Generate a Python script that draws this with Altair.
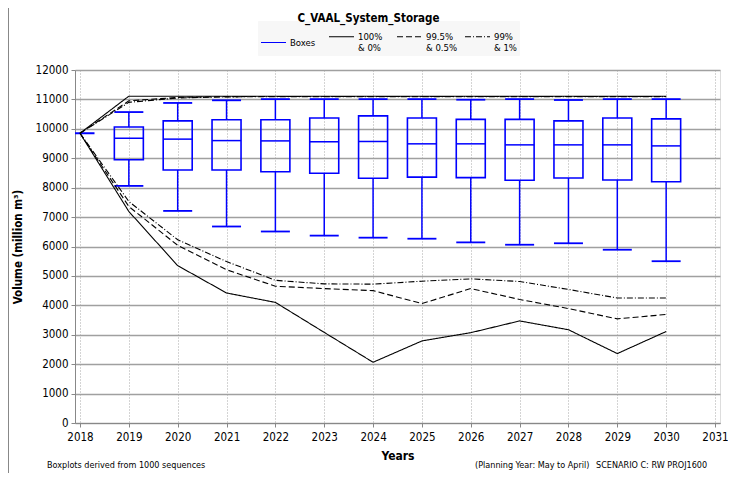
import altair as alt
import pandas as pd

# ---------------- data ----------------
years = list(range(2018, 2031))
box_years = list(range(2019, 2031))
start_year = [2018]
start_value = [9850]

whisker_hi = [10570, 10880, 10970, 11010, 11010, 11010, 11010, 10990, 11010, 10980, 11010, 11010]
q3 = [10060, 10270, 10310, 10310, 10370, 10440, 10370, 10320, 10320, 10270, 10370, 10340]
median = [9680, 9650, 9600, 9590, 9560, 9570, 9490, 9490, 9455, 9455, 9455, 9420]
q1 = [8950, 8600, 8600, 8540, 8490, 8320, 8360, 8340, 8250, 8330, 8260, 8200]
whisker_lo = [8060, 7210, 6680, 6510, 6370, 6300, 6265, 6140, 6060, 6110, 5890, 5500]

max100 = [9850, 11110, 11110, 11110, 11110, 11110, 11110, 11110, 11110, 11110, 11110, 11110, 11110]
up995 = [9850, 10950, 11070, 11095, 11100, 11100, 11100, 11100, 11100, 11100, 11100, 11100, 11100]
up99 = [9850, 10900, 11050, 11085, 11095, 11095, 11095, 11095, 11095, 11095, 11095, 11095, 11095]
min100 = [9850, 7190, 5350, 4420, 4100, 3080, 2065, 2790, 3070, 3470, 3170, 2360, 3110]
lo995 = [9850, 7360, 6040, 5210, 4650, 4570, 4500, 4060, 4570, 4200, 3890, 3540, 3690]
lo99 = [9850, 7530, 6230, 5490, 4850, 4730, 4720, 4820, 4900, 4810, 4540, 4250, 4250]

series_names = ["Boxes", "100%|& 0%", "99.5%|& 0.5%", "99%|& 1%"]
x_ticks = list(range(2018, 2032))
y_ticks = list(range(0, 12001, 1000))

title_text = "C_VAAL_System_Storage"
y_title = "Volume (million m³)"
x_title = "Years"
foot_left = "Boxplots derived from 1000 sequences"
foot_mid = "(Planning Year: May to April)"
foot_right = "SCENARIO C: RW PROJ1600"

# ---------------- tables ----------------
rows = []
for name, up, lo in [(series_names[1], max100, min100),
                     (series_names[2], up995, lo995),
                     (series_names[3], up99, lo99)]:
    for y, v in zip(years, up):
        rows.append({"year": y, "value": v, "series": name, "part": "upper"})
    for y, v in zip(years, lo):
        rows.append({"year": y, "value": v, "series": name, "part": "lower"})
line_df = pd.DataFrame(rows)

box_df = pd.DataFrame({"year": box_years, "hi": whisker_hi, "q3": q3,
                       "med": median, "q1": q1, "lo": whisker_lo})
start_df = pd.DataFrame({"year": start_year, "value": start_value})

FONT = "Liberation Sans Narrow, DejaVu Sans Condensed, sans-serif"
BLUE = "#0000ff"

xscale = alt.Scale(domain=[2018, 2031], nice=False, zero=False)
yscale = alt.Scale(domain=[0, 12000], nice=False)

xaxis = alt.Axis(values=x_ticks, format="d", title=x_title, labelFontSize=11.5,
                 labelFont=FONT, titleFont=FONT, titleFontSize=12, titleFontWeight="bold",
                 grid=True, gridDash=[1, 2], gridColor="#a8a8a8", gridWidth=1,
                 domainColor="#888888", tickColor="#888888", tickSize=4,
                 labelPadding=4, titlePadding=8, labelColor="#000000", titleColor="#000000")
yaxis = alt.Axis(values=y_ticks, format="d", title=y_title, labelFontSize=11.5,
                 labelFont=FONT, titleFont=FONT, titleFontSize=11.5, titleFontWeight="bold",
                 grid=True, gridColor="#a0a0a0", gridWidth=1.3, labelOverlap=False,
                 domainColor="#888888", tickColor="#888888", tickSize=4,
                 labelPadding=3, titlePadding=12, labelColor="#000000", titleColor="#000000")

legend_cfg = dict(orient="none", legendX=183, legendY=-49, direction="horizontal",
                  title=None, symbolType="stroke", symbolSize=625, symbolStrokeWidth=1.2,
                  labelFont=FONT, labelFontSize=9.5, labelColor="#000000",
                  labelExpr="split(datum.label, '|')", labelBaseline="middle", labelOffset=3,
                  labelLimit=0, columnPadding=4, gridAlign="all", padding=2,
                  fillColor="#f7f7f7", strokeColor="#f7f7f7")

base_x = alt.X("year:Q", scale=xscale, axis=xaxis)

def yenc(field):
    return alt.Y(field, scale=yscale, axis=yaxis)

lines = alt.Chart(line_df).mark_line(strokeWidth=1.1, clip=True).encode(
    x=base_x,
    y=yenc("value:Q"),
    color=alt.Color("series:N", scale=alt.Scale(domain=series_names,
                    range=[BLUE, "#000000", "#000000", "#000000"]), legend=alt.Legend(**legend_cfg)),
    strokeDash=alt.StrokeDash("series:N", scale=alt.Scale(domain=series_names,
                    range=[[1, 0], [1, 0], [6, 3], [6, 2, 1, 2]]), legend=alt.Legend(**legend_cfg)),
    detail="part:N",
    order="year:Q",
)

bx = alt.Chart(box_df)
whisk_up = bx.mark_rule(color=BLUE, strokeWidth=1.5).encode(x=base_x, y=yenc("q3:Q"), y2="hi:Q")
whisk_lo = bx.mark_rule(color=BLUE, strokeWidth=1.5).encode(x=base_x, y=yenc("lo:Q"), y2="q1:Q")
boxes = bx.mark_bar(size=29, fillOpacity=0, stroke=BLUE, strokeWidth=1.6).encode(
    x=base_x, y=yenc("q1:Q"), y2="q3:Q")
med = bx.mark_tick(orient="horizontal", size=29, thickness=1.5, color=BLUE, opacity=1).encode(
    x=base_x, y=yenc("med:Q"))
cap_hi = bx.mark_tick(orient="horizontal", size=29, thickness=1.8, color=BLUE, opacity=1).encode(
    x=base_x, y=yenc("hi:Q"))
cap_lo = bx.mark_tick(orient="horizontal", size=29, thickness=1.8, color=BLUE, opacity=1).encode(
    x=base_x, y=yenc("lo:Q"))
start_cap = alt.Chart(start_df).mark_tick(orient="horizontal", size=29, thickness=2,
                                          color=BLUE, opacity=1, clip=True).encode(
    x=base_x, y=yenc("value:Q"))

def note(text, x, align="left"):
    return alt.Chart(pd.DataFrame({"t": [text]})).mark_text(
        font=FONT, fontSize=9, align=align, baseline="middle", color="#000000").encode(
        text="t:N", x=alt.value(x), y=alt.value(395))

notes = note(foot_left, -28) + note(foot_mid, 400) + note(foot_right, 521)

border = alt.Chart(pd.DataFrame({"a": [0]})).mark_rule(color="#888888", strokeWidth=1).encode(
    x=alt.value(-66.5), y=alt.value(-62), y2=alt.value(404))

chart = alt.layer(whisk_up, whisk_lo, boxes, med, cap_hi, cap_lo, start_cap, lines, notes, border).properties(
    width=645, height=353,
    padding={"left": 67, "top": 62, "right": 8, "bottom": 50},
    autosize=alt.AutoSizeParams(type="none"),
    title=alt.Title(title_text, font=FONT, fontSize=11.5, fontWeight="bold", color="#000000",
                    anchor="middle", frame="group", dx=-29, offset=-17),
).configure_view(stroke=None).configure(background="white")

chart.save("out.html", embed_options={"renderer": "svg", "actions": False})
